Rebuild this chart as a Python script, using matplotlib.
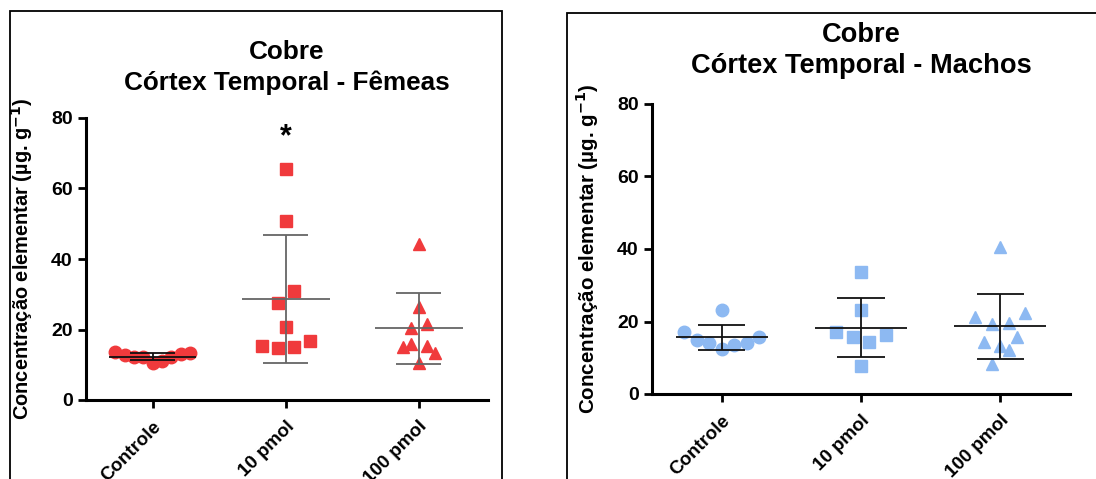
import matplotlib
matplotlib.use("Agg")
import matplotlib.pyplot as plt
import numpy as np
from matplotlib.patches import Rectangle

plt.rcParams["font.family"] = ["Liberation Sans", "DejaVu Sans"]
plt.rcParams["font.weight"] = "bold"
plt.rcParams["mathtext.default"] = "bf"

groups = ["Controle", "10 pmol", "100 pmol"]
markers = ["o", "s", "^"]

# Fêmeas (left panel)
fem_ctrl = [13.5, 12.8, 12.1, 12.1, 10.4, 11.2, 12.1, 13.0, 13.2]
fem_ctrl_dx = [-0.28, -0.21, -0.14, -0.07, 0.0, 0.07, 0.14, 0.21, 0.28]
fem_10 = [65.5, 50.9, 31.0, 27.6, 20.6, 15.3, 14.8, 15.1, 16.8]
fem_10_dx = [0.0, 0.0, 0.06, -0.06, 0.0, -0.18, -0.06, 0.06, 0.18]
fem_100 = [44.2, 26.5, 20.3, 21.7, 15.1, 15.8, 15.4, 13.4, 10.6]
fem_100_dx = [0.0, 0.0, -0.06, 0.06, -0.12, -0.06, 0.06, 0.12, 0.0]

# Machos (right panel)
mac_ctrl = [23.2, 17.2, 14.9, 14.0, 12.4, 13.5, 14.2, 15.6]
mac_ctrl_dx = [0.0, -0.27, -0.18, -0.09, 0.0, 0.09, 0.18, 0.27]
mac_10 = [33.7, 23.2, 17.2, 15.8, 14.4, 16.3, 7.7]
mac_10_dx = [0.0, 0.0, -0.18, -0.06, 0.06, 0.18, 0.0]
mac_100 = [40.6, 21.3, 22.3, 19.3, 19.7, 14.4, 15.6, 13.3, 12.1, 8.2]
mac_100_dx = [0.0, -0.18, 0.18, -0.06, 0.06, -0.12, 0.12, 0.0, 0.06, -0.06]

W, H = 1096, 479
fig = plt.figure(figsize=(W / 100, H / 100), dpi=100)


def panel(rect, data, offsets, color, bar_colors, title, xmax,
          title_size, title_ls, title_pad, label_size, star=None):
    ax = fig.add_axes(rect)
    for i, (vals, dx) in enumerate(zip(data, offsets)):
        vals = np.array(vals)
        ax.plot(i + np.array(dx), vals, linestyle="none", marker=markers[i],
                color=color, markersize=9 if i == 0 else 8.5, zorder=2)
        m, sd = vals.mean(), vals.std(ddof=1)
        bc = bar_colors[i]
        ax.hlines(m, i - 0.33, i + 0.33, color=bc, lw=1.3, zorder=3)
        ax.hlines([m - sd, m + sd], i - 0.17, i + 0.17, color=bc, lw=1.3, zorder=3)
        ax.vlines(i, m - sd, m + sd, color=bc, lw=1.3, zorder=3)
    if star is not None:
        ax.text(star[0], star[1], "*", ha="center", va="center", fontsize=22,
                fontweight="bold")
    ax.set_xlim(-0.5, xmax)
    ax.set_ylim(0, 80)
    ax.set_yticks([0, 20, 40, 60, 80])
    ax.set_xticks(range(3))
    ax.set_xticklabels(groups, rotation=45, ha="right", rotation_mode="anchor",
                       fontsize=13.5, fontweight="bold")
    ax.tick_params(axis="y", labelsize=14, width=2, length=6)
    ax.tick_params(axis="x", width=2, length=6, pad=7)
    for s in ("top", "right"):
        ax.spines[s].set_visible(False)
    for s in ("left", "bottom"):
        ax.spines[s].set_linewidth(2.2)
    ax.set_ylabel("Concentração elementar (µg. g$^{-1}$)", fontsize=label_size,
                  fontweight="bold", labelpad=12)
    ax.set_title(title, fontsize=title_size, fontweight="bold", pad=title_pad,
                 linespacing=title_ls)
    return ax


left = panel([86 / W, 1 - 400 / H, 402 / W, 282 / H],
             [fem_ctrl, fem_10, fem_100], [fem_ctrl_dx, fem_10_dx, fem_100_dx],
             "#F03A3C", ["#111111", "#666666", "#666666"],
             "Cobre\nCórtex Temporal - Fêmeas", 2.52, 18.8, 1.32, 20.5, 14.4,
             star=(1, 74.5))
right = panel([652 / W, 1 - 394 / H, 418 / W, 290 / H],
              [mac_ctrl, mac_10, mac_100], [mac_ctrl_dx, mac_10_dx, mac_100_dx],
              "#8DB9F2", ["#111111", "#111111", "#111111"],
              "Cobre\nCórtex Temporal - Machos", 2.5, 19.6, 1.25, 22, 14.8)

# panel frames
fig.patches.append(Rectangle((9.5 / W, -0.05), 492 / W, 1.05 - 11 / H,
                             transform=fig.transFigure, fill=False,
                             edgecolor="black", lw=1.3))
fig.patches.append(Rectangle((567 / W, -0.05), 0.5, 1.05 - 13 / H,
                             transform=fig.transFigure, fill=False,
                             edgecolor="black", lw=1.3))

fig.savefig("out.png", dpi=100)
